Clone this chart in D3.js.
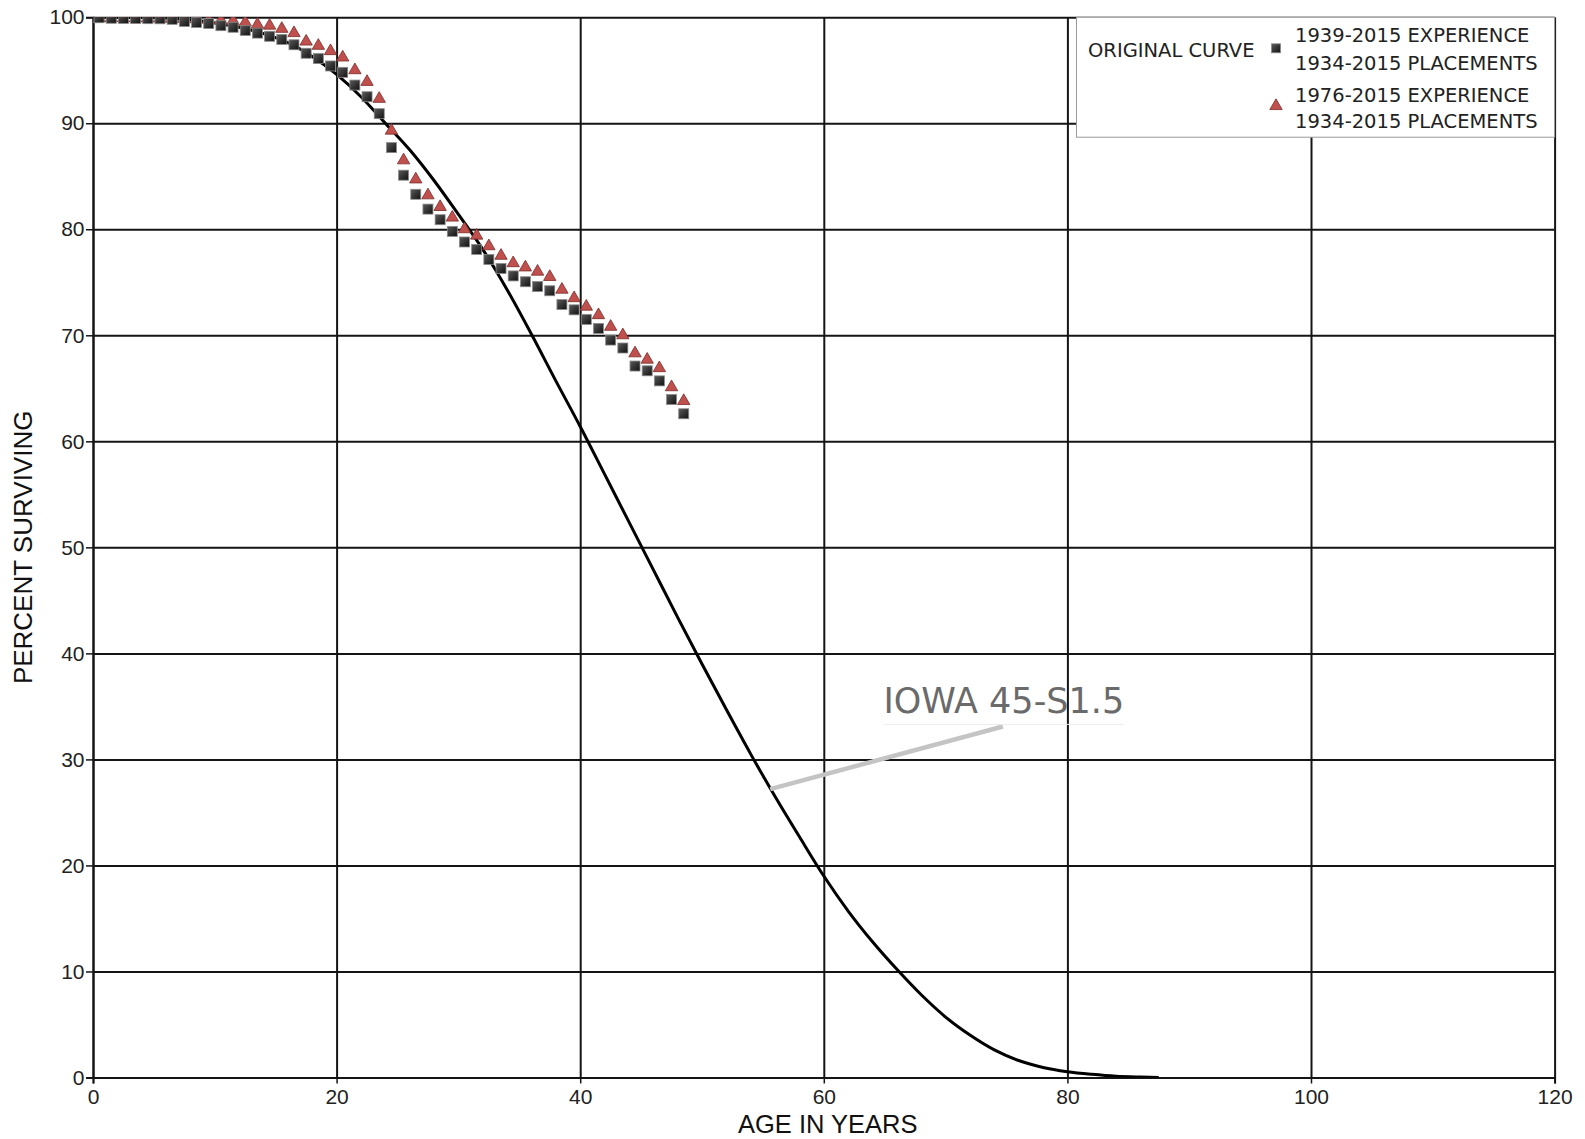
<!DOCTYPE html>
<meta charset="utf-8">
<html>
<head>
<script src="https://d3js.org/d3.v7.min.js"></script>
<style>
  body { margin: 0; background: #fff; }
  .tick text { font-family: "Liberation Sans", Arial, sans-serif; font-size: 21px; fill: #222; }
  .legend text { font-family: "DejaVu Sans", Verdana, sans-serif; font-size: 19.5px; fill: #222; }
</style>
</head>
<body>
<div id="chart"></div>
<script>
// ages of the observed points (years)
var ages = [0, 0.5, 1.5, 2.5, 3.5, 4.5, 5.5, 6.5, 7.5, 8.5, 9.5, 10.5, 11.5, 12.5, 13.5, 14.5,
  15.5, 16.5, 17.5, 18.5, 19.5, 20.5, 21.5, 22.5, 23.5, 24.5, 25.5, 26.5, 27.5, 28.5, 29.5,
  30.5, 31.5, 32.5, 33.5, 34.5, 35.5, 36.5, 37.5, 38.5, 39.5, 40.5, 41.5, 42.5, 43.5, 44.5,
  45.5, 46.5, 47.5, 48.5];

// 1939-2015 experience, percent surviving
var exp1939 = [100, 99.95, 99.9, 99.88, 99.87, 99.86, 99.85, 99.8, 99.6, 99.5, 99.4, 99.2, 99.05,
  98.75, 98.5, 98.2, 97.9, 97.4, 96.6, 96.1, 95.4, 94.8, 93.6, 92.5, 90.9, 87.7, 85.1, 83.3,
  81.9, 80.9, 79.8, 78.8, 78.1, 77.15, 76.3, 75.6, 75.05, 74.6, 74.2, 72.9, 72.4, 71.5, 70.65,
  69.55, 68.8, 67.1, 66.65, 65.7, 63.95, 62.6];

// 1976-2015 experience, percent surviving
var exp1976 = [100, 100, 100, 100, 99.99, 99.98, 99.97, 99.95, 99.93, 99.9, 99.85, 99.8, 99.75,
  99.6, 99.4, 99.3, 99.0, 98.6, 97.8, 97.4, 96.9, 96.3, 95.1, 94.0, 92.4, 89.4, 86.6, 84.8,
  83.3, 82.2, 81.2, 80.1, 79.5, 78.5, 77.6, 76.9, 76.5, 76.1, 75.6, 74.4, 73.6, 72.8, 72.0,
  70.9, 70.1, 68.4, 67.8, 67.0, 65.2, 63.9];

// Iowa 45-S1.5 curve
var curveAges = [0, 4, 8, 10, 12, 14, 16, 18, 20, 22, 24, 26, 28, 30, 32, 34, 36, 38, 40, 42, 44,
  46, 48, 50, 52, 54, 56, 58, 60, 62, 64, 66, 68, 70, 72, 74, 76, 78, 80, 82, 84, 86, 87.5];
var curvePct = [100, 99.97, 99.75, 99.45, 99.05, 98.45, 97.6, 96.3, 94.6, 92.5, 90.0, 87.5,
  84.6, 81.4, 78.1, 74.3, 70.1, 65.7, 61.4, 56.9, 52.4, 47.9, 43.4, 39.0, 34.7, 30.5, 26.5,
  22.7, 19.0, 15.7, 12.8, 10.2, 7.8, 5.7, 4.0, 2.6, 1.6, 0.95, 0.55, 0.3, 0.12, 0.04, 0];

var xTicks = [0, 20, 40, 60, 80, 100, 120];
var yTicks = [0, 10, 20, 30, 40, 50, 60, 70, 80, 90, 100];

var W = 1585, H = 1139;
var margin = {left: 93, top: 17.2, right: 30.4, bottom: 61.5};
var w = W - margin.left - margin.right, h = H - margin.top - margin.bottom;

var svg = d3.select("#chart").append("svg").attr("width", W).attr("height", H);
var defs = svg.append("defs");
defs.append("clipPath").attr("id", "plotclip")
  .append("rect").attr("width", w).attr("height", h);
var grad = defs.append("linearGradient").attr("id", "sqgrad")
  .attr("x1", 0).attr("y1", 0).attr("x2", 1).attr("y2", 1);
grad.append("stop").attr("offset", "0%").attr("stop-color", "#5a5a5a");
grad.append("stop").attr("offset", "100%").attr("stop-color", "#111");

var g = svg.append("g").attr("transform", "translate(" + margin.left + "," + margin.top + ")");

var x = d3.scaleLinear().domain([0, 120]).range([0, w]);
var y = d3.scaleLinear().domain([0, 100]).range([h, 0]);

// grid
g.append("g").attr("class", "grid")
  .call(d3.axisLeft(y).tickValues(yTicks).tickSize(-w).tickFormat(""))
  .call(function (s) { s.select(".domain").remove(); });
g.append("g").attr("class", "grid").attr("transform", "translate(0," + h + ")")
  .call(d3.axisBottom(x).tickValues(xTicks).tickSize(-h).tickFormat(""))
  .call(function (s) { s.select(".domain").remove(); });
g.selectAll(".grid line").attr("stroke", "#151515").attr("stroke-width", 2);

// axes with labels
var ya = g.append("g").call(d3.axisLeft(y).tickValues(yTicks).tickSize(7).tickPadding(1.5));
var xa = g.append("g").attr("transform", "translate(0," + h + ")")
  .call(d3.axisBottom(x).tickValues(xTicks).tickSize(6).tickPadding(6));
[ya, xa].forEach(function (a) {
  a.select(".domain").attr("stroke", "#151515").attr("stroke-width", 2);
  a.selectAll("line").attr("stroke", "#151515").attr("stroke-width", 1.5);
});

// axis titles
svg.append("text").attr("x", margin.left + w / 2 + 4).attr("y", 1133)
  .attr("text-anchor", "middle")
  .style("font-family", "Liberation Sans, Arial, sans-serif").style("font-size", "25.5px").style("fill", "#111")
  .text("AGE IN YEARS");
svg.append("text").attr("transform", "translate(32," + (margin.top + h / 2) + ") rotate(-90)")
  .attr("text-anchor", "middle")
  .style("font-family", "Liberation Sans, Arial, sans-serif").style("font-size", "26px").style("fill", "#111")
  .text("PERCENT SURVIVING");

var plot = g.append("g").attr("clip-path", "url(#plotclip)");

// original curve
var line = d3.line().x(function (d) { return x(d[0]); }).y(function (d) { return y(d[1]); })
  .curve(d3.curveMonotoneX);
plot.append("path").datum(d3.zip(curveAges, curvePct))
  .attr("d", line).attr("fill", "none").attr("stroke", "#000").attr("stroke-width", 3);

// annotation
g.append("line").attr("x1", x(55.6)).attr("y1", y(27.2)).attr("x2", x(74.7)).attr("y2", y(33.1))
  .attr("stroke", "#c4c4c4").attr("stroke-width", 4.5);
g.append("line").attr("x1", x(64.9)).attr("y1", y(33.3)).attr("x2", x(84.6)).attr("y2", y(33.3))
  .attr("stroke", "#ececec").attr("stroke-width", 1);
g.append("text").attr("x", x(64.9)).attr("y", y(34.4))
  .style("font-family", "DejaVu Sans, Verdana, sans-serif").style("font-size", "35px").style("fill", "#6a6a6a")
  .text("IOWA 45-S1.5");

var tri = d3.symbol().type(d3.symbolTriangle).size(66);

// 1976-2015 triangles
plot.selectAll(".tri").data(d3.zip(ages, exp1976)).enter().append("path")
  .attr("class", "tri")
  .attr("transform", function (d) { return "translate(" + x(d[0]) + "," + (y(d[1]) + 1) + ")"; })
  .attr("d", tri).attr("fill", "#c0504d").attr("stroke", "#7b2a27").attr("stroke-width", 0.8);

// 1939-2015 squares
plot.selectAll(".sq").data(d3.zip(ages, exp1939)).enter().append("rect")
  .attr("class", "sq")
  .attr("x", function (d) { return x(d[0]) - 5; })
  .attr("y", function (d) { return y(d[1]) - 5; })
  .attr("width", 10).attr("height", 10)
  .attr("fill", "url(#sqgrad)").attr("stroke", "#8a8a8a").attr("stroke-width", 0.8);

// legend
var lg = svg.append("g").attr("class", "legend");
var lx = 1076.5, ly = margin.top;
lg.append("rect").attr("x", lx).attr("y", ly).attr("width", margin.left + w - lx).attr("height", 120)
  .attr("fill", "#fff").attr("stroke", "#9a9a9a").attr("stroke-width", 1);
lg.append("text").attr("x", 1088).attr("y", 56.5).text("ORIGINAL CURVE");
lg.append("rect").attr("x", 1271.5).attr("y", 43.8).attr("width", 9).attr("height", 9)
  .attr("fill", "url(#sqgrad)").attr("stroke", "#8a8a8a").attr("stroke-width", 0.8);
lg.append("path").attr("transform", "translate(1276,106)").attr("d", tri)
  .attr("fill", "#c0504d").attr("stroke", "#7b2a27").attr("stroke-width", 0.8);
var legendLines = [["1939-2015 EXPERIENCE", 41.5], ["1934-2015 PLACEMENTS", 69.5],
  ["1976-2015 EXPERIENCE", 101.5], ["1934-2015 PLACEMENTS", 128]];
legendLines.forEach(function (l) {
  lg.append("text").attr("x", 1295).attr("y", l[1]).text(l[0]);
});
</script>
</body>
</html>
